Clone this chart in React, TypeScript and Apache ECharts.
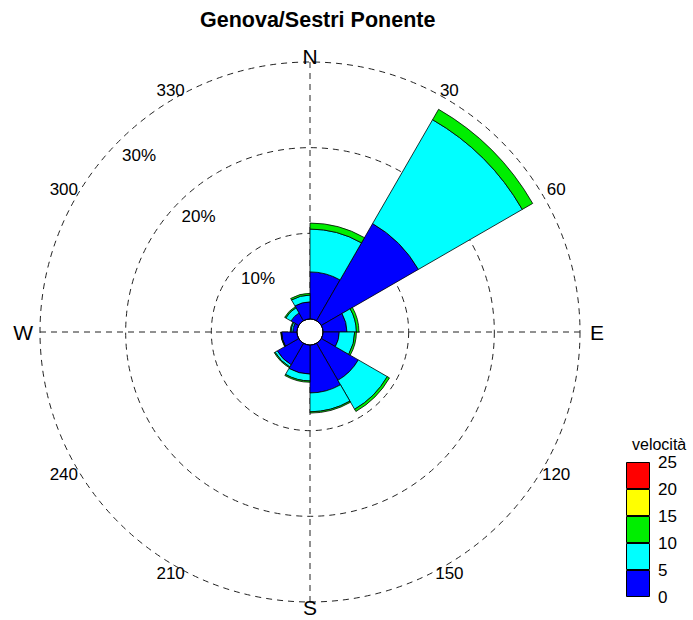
import React, { useEffect, useRef } from 'react';
import * as echarts from 'echarts';

// Wind directions: each sector spans 30 degrees, starting at its label (clockwise from north)
const directions = ['0', '30', '60', '90', '120', '150', '180', '210', '240', '270', '300', '330'];

// Frequency (%) of each speed class per direction sector
const speed0to5 = [5.5, 13.1, 2.8, 1.9, 5.0, 5.6, 3.4, 2.9, 1.8, 0.5, 1.05, 2.0];
const speed5to10 = [5.0, 14.0, 1.1, 1.8, 3.9, 2.2, 0.8, 0.3, 0.05, 0.2, 0.7, 0.8];
const speed10to15 = [0.7, 1.4, 0.3, 0.2, 0.3, 0.15, 0.15, 0.1, 0.05, 0.1, 0.15, 0.2];
const speed15to20 = [0, 0, 0, 0, 0, 0, 0, 0, 0, 0, 0, 0];
const speed20to25 = [0, 0, 0, 0, 0, 0, 0, 0, 0, 0, 0, 0];

// Speed class boundaries and colours (colour bar)
const speedBreaks = [0, 5, 10, 15, 20, 25];
const speedColors = ['#0000ff', '#00ffff', '#00ee00', '#ffff00', '#ff0000'];

// Compass labels around the outer ring
const angleLabels = ['N', '30', '60', 'E', '120', '150', 'S', '210', '240', 'W', '300', '330'];
const angleLabelDegrees = [0, 30, 60, 90, 120, 150, 180, 210, 240, 270, 300, 330];

// Frequency rings (%)
const ringValues = [10, 20, 30];

const FONT = 'Liberation Sans, Arial, sans-serif';
const CENTER = [310, 332];
const R_IN = 13;
const R_OUT = 270;
const R_MAX = 30;

export default function App() {
  const ref = useRef<HTMLDivElement>(null);

  useEffect(() => {
    document.body.style.margin = '0';
    if (!ref.current) return;
    const chart = echarts.init(ref.current, undefined, { renderer: 'svg' });

    const classes = [speed0to5, speed5to10, speed10to15, speed15to20, speed20to25];

    const roseSeries = classes.map((vals, k) => ({
      type: 'bar',
      name: `${speedBreaks[k]}-${speedBreaks[k + 1]}`,
      coordinateSystem: 'polar',
      polarIndex: 1,
      stack: 'freq',
      barCategoryGap: '0%',
      data: vals.map((v) => (v > 0 ? v : null)),
      itemStyle: { color: speedColors[k], borderColor: '#000', borderWidth: 0.8 },
      silent: true,
    }));

    const legendSeries = speedColors.map((c, k) => ({
      type: 'bar',
      xAxisIndex: 0,
      yAxisIndex: 0,
      stack: 'legend',
      barWidth: '100%',
      data: [speedBreaks[k + 1] - speedBreaks[k]],
      itemStyle: { color: c, borderColor: '#000', borderWidth: 1 },
      silent: true,
    }));

    // compass labels sit just outside the outer ring, a little further out at the sides
    const labelRadius = (deg: number) => {
      const s = Math.sin((deg * Math.PI) / 180);
      return R_MAX + 0.7 + 1.28 * s * s;
    };
    const compassSeries = {
      type: 'scatter',
      coordinateSystem: 'polar',
      polarIndex: 0,
      clip: false,
      symbolSize: 1,
      itemStyle: { color: 'rgba(0,0,0,0)', opacity: 1 },
      silent: true,
      z: 6,
      data: angleLabels.map((t, i) => ({
        name: t,
        value: [labelRadius(angleLabelDegrees[i]), angleLabelDegrees[i]],
        label: { fontSize: /^[NESW]$/.test(t) ? 21 : 17 },
      })),
      label: {
        show: true,
        position: 'inside',
        formatter: '{b}',
        color: '#000',
        opacity: 1,
        fontFamily: FONT,
      },
    };

    const ringLabelSeries = {
      type: 'scatter',
      coordinateSystem: 'polar',
      polarIndex: 0,
      clip: false,
      symbolSize: 1,
      itemStyle: { color: 'rgba(0,0,0,0)', opacity: 1 },
      silent: true,
      data: ringValues.map((v) => ({ name: `${v}%`, value: [v - 2.8, 316] })),
      label: {
        show: true,
        position: 'inside',
        formatter: '{b}',
        color: '#000',
        opacity: 1,
        fontSize: 17,
        fontFamily: FONT,
      },
    };

    const hidden = {
      axisLine: { show: false },
      axisTick: { show: false },
      axisLabel: { show: false },
      splitLine: { show: false },
    };
    const dashed = { color: '#222', width: 1, type: [6, 5] };

    chart.setOption({
      animation: false,
      backgroundColor: '#fff',
      title: [
        {
          text: 'Genova/Sestri Ponente',
          left: 195,
          top: 4,
          textStyle: { fontFamily: FONT, fontSize: 21.5, fontWeight: 'bold', color: '#000' },
        },
        {
          text: 'velocità',
          left: 627,
          top: 431,
          textStyle: { fontFamily: FONT, fontSize: 16, fontWeight: 'normal', color: '#000' },
        },
      ],
      polar: [
        { center: CENTER, radius: [R_IN, R_OUT] },
        { center: CENTER, radius: [R_IN, R_OUT] },
        { center: CENTER, radius: [0, R_IN] },
      ],
      angleAxis: [
        {
          polarIndex: 0,
          type: 'value',
          min: 0,
          max: 360,
          interval: 90,
          startAngle: 90,
          clockwise: true,
          axisLine: { show: false },
          axisTick: { show: false },
          axisLabel: { show: false },
          splitLine: { show: true, lineStyle: dashed },
        },
        {
          polarIndex: 1,
          type: 'category',
          data: directions,
          startAngle: 90,
          clockwise: true,
          boundaryGap: true,
          ...hidden,
        },
        {
          polarIndex: 2,
          type: 'value',
          min: 0,
          max: 360,
          startAngle: 90,
          z: 10,
          axisLine: { show: true, lineStyle: { color: '#000', width: 1 } },
          axisTick: { show: false },
          axisLabel: { show: false },
          splitLine: { show: false },
        },
      ],
      radiusAxis: [
        {
          polarIndex: 0,
          type: 'value',
          min: 0,
          max: R_MAX,
          interval: 10,
          axisLine: { show: false },
          axisTick: { show: false },
          axisLabel: { show: false },
          splitLine: { show: true, lineStyle: dashed },
        },
        { polarIndex: 1, type: 'value', min: 0, max: R_MAX, show: false },
        { polarIndex: 2, type: 'value', min: 0, max: 1, show: false },
      ],
      grid: { left: 626, top: 462, width: 24, height: 135 },
      xAxis: { type: 'category', data: ['v'], show: false },
      yAxis: {
        type: 'value',
        min: 0,
        max: 25,
        interval: 5,
        position: 'right',
        axisLine: { show: false },
        axisTick: { show: false },
        splitLine: { show: false },
        axisLabel: {
          show: true,
          showMinLabel: true,
          showMaxLabel: true,
          margin: 8,
          fontSize: 17,
          color: '#000',
          fontFamily: FONT,
        },
      },
      series: [...roseSeries, ...legendSeries, compassSeries, ringLabelSeries],
    });

    return () => chart.dispose();
  }, []);

  return <div ref={ref} style={{ width: 693, height: 620 }} />;
}
